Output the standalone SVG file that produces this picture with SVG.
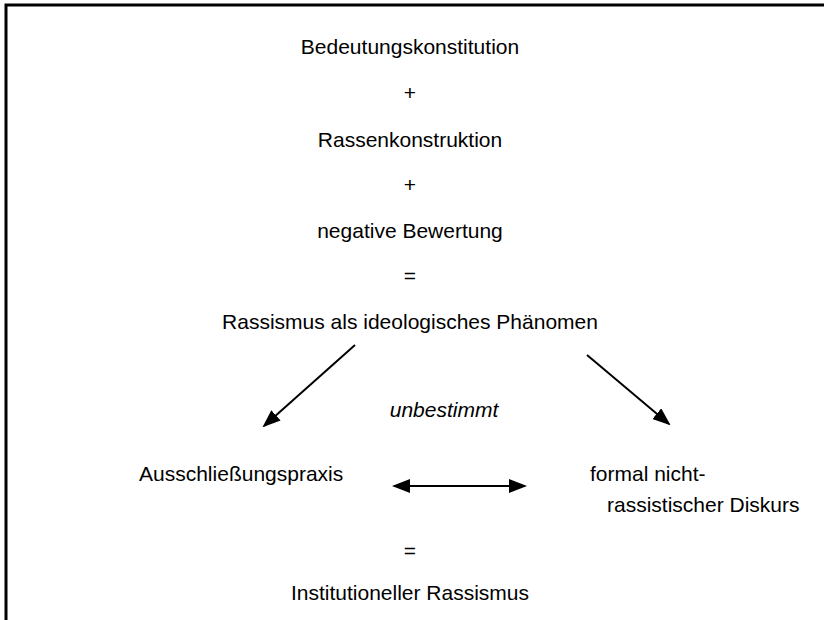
<svg xmlns="http://www.w3.org/2000/svg" width="824" height="620" viewBox="0 0 824 620">
<style>
text{font-family:"Liberation Sans",Arial,sans-serif;font-size:21px;fill:#000}
.c{text-anchor:middle}
.i{font-style:italic}
.ln{stroke:#000;stroke-width:2;fill:none}
</style>
<defs>
<marker id="ah" markerWidth="9" markerHeight="7" refX="8" refY="3.5" orient="auto-start-reverse" markerUnits="strokeWidth">
<path d="M0,0 L9,3.5 L0,7 Z" fill="#000"/>
</marker>
</defs>
<rect width="824" height="620" fill="#fff"/>
<g id="frame">
<path d="M6,620 V5 H824" stroke="#000" stroke-width="3" fill="none"/>
</g>
<g id="n1"><text class="c" x="410" y="54">Bedeutungskonstitution</text></g>
<g id="op1"><text class="c" x="410" y="100">+</text></g>
<g id="n2"><text class="c" x="410" y="147">Rassenkonstruktion</text></g>
<g id="op2"><text class="c" x="410" y="192">+</text></g>
<g id="n3"><text class="c" x="410" y="238">negative Bewertung</text></g>
<g id="op3"><text class="c" x="410" y="283">=</text></g>
<g id="n4"><text class="c" x="410" y="329">Rassismus als ideologisches Phänomen</text></g>
<g id="lbl"><text class="c i" x="444" y="417">unbestimmt</text></g>
<g id="n5"><text x="139" y="481">Ausschließungspraxis</text></g>
<g id="n6"><text x="590" y="481">formal nicht-</text><text x="607" y="512">rassistischer Diskurs</text></g>
<g id="op4"><text class="c" x="410" y="558">=</text></g>
<g id="n7"><text class="c" x="410" y="600">Institutioneller Rassismus</text></g>
<g id="connectors">
<line class="ln" x1="355" y1="345" x2="264" y2="426" marker-end="url(#ah)"/>
<line class="ln" x1="587" y1="355" x2="669" y2="424" marker-end="url(#ah)"/>
<line class="ln" x1="394" y1="486" x2="525" y2="486" marker-start="url(#ah)" marker-end="url(#ah)"/>
</g>
</svg>
